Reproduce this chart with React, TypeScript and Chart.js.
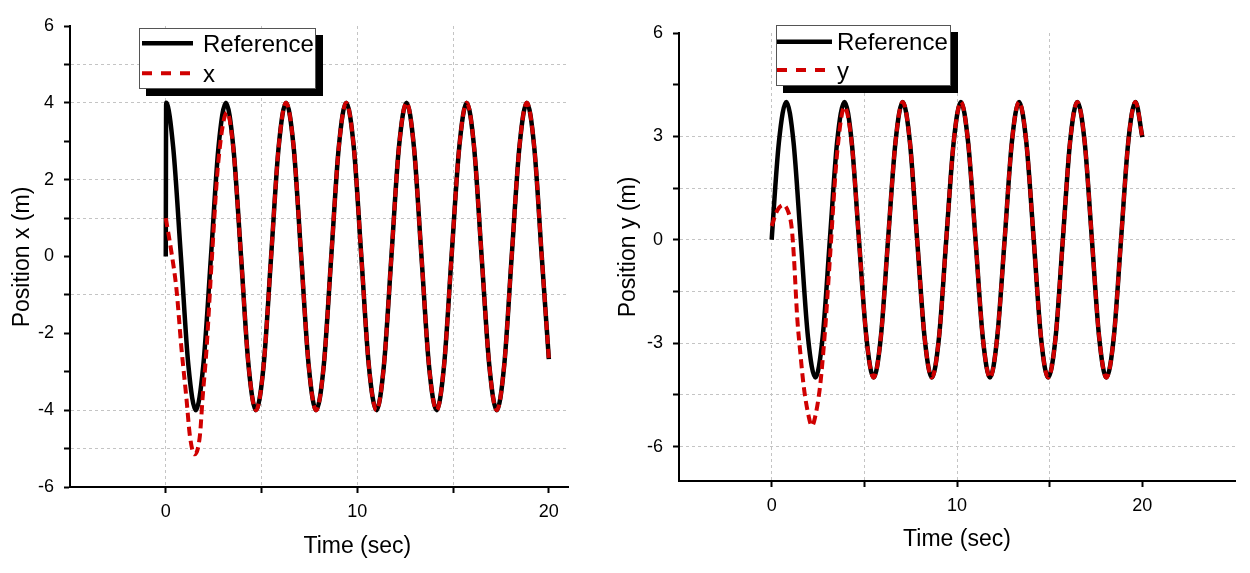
import React, { useEffect, useRef } from 'react';
import { Chart, registerables } from 'chart.js';

Chart.register(...registerables);

const FONT = "'Liberation Sans', Arial, Helvetica, sans-serif";
const RED = '#d00000';
const GRID = '#c4c4c4';

// ---------- data ----------
const refTime = [
  0, 0.02, 0.39, 0.79, 1.18, 1.57, 1.96, 2.36, 2.75, 3.14,
  3.53, 3.93, 4.32, 4.71, 5.11, 5.5, 5.89, 6.28, 6.68, 7.07,
  7.46, 7.85, 8.25, 8.64, 9.03, 9.42, 9.82, 10.21, 10.6, 11.0,
  11.39, 11.78, 12.17, 12.57, 12.96, 13.35, 13.74, 14.14, 14.53, 14.92,
  15.32, 15.71, 16.1, 16.49, 16.89, 17.28, 17.67, 18.06, 18.46, 18.85,
  19.24, 19.63, 20.0,
];
const refX = [
  0, 4, 2.83, 0, -2.83, -4, -2.83, 0, 2.83, 4,
  2.83, 0, -2.83, -4, -2.83, 0, 2.83, 4, 2.83, 0,
  -2.83, -4, -2.83, 0, 2.83, 4, 2.83, 0, -2.83, -4,
  -2.83, 0, 2.83, 4, 2.83, 0, -2.83, -4, -2.83, 0,
  2.83, 4, 2.83, 0, -2.83, -4, -2.83, 0, 2.83, 4,
  2.83, 0, -2.67,
];
const refY = [
  0, 0.16, 2.83, 4, 2.83, 0, -2.83, -4, -2.83, 0,
  2.83, 4, 2.83, 0, -2.83, -4, -2.83, 0, 2.83, 4,
  2.83, 0, -2.83, -4, -2.83, 0, 2.83, 4, 2.83, 0,
  -2.83, -4, -2.83, 0, 2.83, 4, 2.83, 0, -2.83, -4,
  -2.83, 0, 2.83, 4, 2.83, 0, -2.83, -4, -2.83, 0,
  2.83, 4, 2.98,
];
const trackXTime = [
  0, 0.3, 0.56, 0.82, 1.08, 1.26, 1.5, 1.78, 1.92, 2.13,
  2.4, 2.75, 3.2, 3.53, 3.93, 4.32, 4.71, 5.11, 5.5, 5.89,
  6.28, 6.68, 7.07, 7.46, 7.85, 8.25, 8.64, 9.03, 9.42, 9.82,
  10.21, 10.6, 11.0, 11.39, 11.78, 12.17, 12.57, 12.96, 13.35, 13.74,
  14.14, 14.53, 14.92, 15.32, 15.71, 16.1, 16.49, 16.89, 17.28, 17.67,
  18.06, 18.46, 18.85, 19.24, 19.63, 20.0,
];
const trackX = [
  1.0, 0.1, -0.86, -2.4, -3.7, -4.67, -5.15, -4.67, -3.7, -2.4,
  -0.1, 2.5, 3.75, 2.8, 0, -2.83, -4, -2.83, 0, 2.83,
  4, 2.83, 0, -2.83, -4, -2.83, 0, 2.83, 4, 2.83,
  0, -2.83, -4, -2.83, 0, 2.83, 4, 2.83, 0, -2.83,
  -4, -2.83, 0, 2.83, 4, 2.83, 0, -2.83, -4, -2.83,
  0, 2.83, 4, 2.83, 0, -2.67,
];
const trackYTime = [
  0, 0.3, 0.63, 0.9, 1.08, 1.2, 1.38, 1.55, 1.72, 1.95,
  2.17, 2.4, 2.62, 2.78, 2.93, 3.16, 3.53, 3.93, 4.32, 4.71,
  5.11, 5.5, 5.89, 6.28, 6.68, 7.07, 7.46, 7.85, 8.25, 8.64,
  9.03, 9.42, 9.82, 10.21, 10.6, 11.0, 11.39, 11.78, 12.17, 12.57,
  12.96, 13.35, 13.74, 14.14, 14.53, 14.92, 15.32, 15.71, 16.1, 16.49,
  16.89, 17.28, 17.67, 18.06, 18.46, 18.85, 19.24, 19.63, 20.0,
];
const trackY = [
  0.4, 0.85, 1.01, 0.8, 0.35, -0.5, -2.27, -3.3, -4.21, -5.0,
  -5.4, -5.0, -4.21, -3.3, -2.27, -0.4, 2.5, 3.85, 2.8, 0,
  -2.83, -4, -2.83, 0, 2.83, 4, 2.83, 0, -2.83, -4,
  -2.83, 0, 2.83, 4, 2.83, 0, -2.83, -4, -2.83, 0,
  2.83, 4, 2.83, 0, -2.83, -4, -2.83, 0, 2.83, 4,
  2.83, 0, -2.83, -4, -2.83, 0, 2.83, 4, 2.98,
];

// ---------- ticks ----------
const xTicks = [0, 5, 10, 15, 20];
const xTickLabels = ['0', '', '10', '', '20'];
const xGridValues = [0, 5, 10, 15];
const leftYTicks = [-6, -5, -4, -3, -2, -1, 0, 1, 2, 3, 4, 5, 6];
const leftYTickLabels = ['-6', '', '-4', '', '-2', '', '0', '', '2', '', '4', '', '6'];
const leftYGridValues = [5, 4, 2, 1, -1, -4, -5];
const rightYTicks = [-6, -4.5, -3, -1.5, 0, 1.5, 3, 4.5, 6];
const rightYTickLabels = ['-6', '', '-3', '', '0', '', '3', '', '6'];
const rightYGridValues = [3, 1.5, 0, -1.5, -3, -4.5, -6];

type Spec = {
  width: number;
  height: number;
  padding: { left: number; top: number; right: number; bottom: number };
  yAxisWidth: number;
  xAxisHeight: number;
  xMin: number; xMax: number; yMin: number; yMax: number;
  yTicks: number[]; yTickLabels: string[]; yGrid: number[];
  trackLabel: string; trackTime: number[]; trackVals: number[]; refVals: number[];
  xTitle: string; xTitleAt: number; xTitleBaseline: number;
  yTitle: string; yTitleX: number; yTitleY: number;
  legend: { x: number; y: number; w: number; h: number; sx1: number; sx2: number; rows: number[]; tx: number };
};

function decorPlugin(spec: Spec) {
  return {
    id: 'decor',
    afterDraw(chart: any) {
      const ctx = chart.ctx as CanvasRenderingContext2D;
      const xs = chart.scales.x;
      ctx.save();
      ctx.fillStyle = '#000';
      ctx.font = `23px ${FONT}`;
      ctx.textAlign = 'center';
      ctx.textBaseline = 'alphabetic';
      ctx.fillText(spec.xTitle, xs.getPixelForValue(spec.xTitleAt), spec.xTitleBaseline);
      ctx.save();
      ctx.translate(spec.yTitleX, spec.yTitleY);
      ctx.rotate(-Math.PI / 2);
      ctx.textBaseline = 'middle';
      ctx.fillText(spec.yTitle, 0, 0);
      ctx.restore();

      // legend with shadow frame
      const L = spec.legend;
      ctx.fillStyle = '#000';
      ctx.fillRect(L.x + 7, L.y + 7, L.w, L.h);
      ctx.fillStyle = '#fff';
      ctx.fillRect(L.x, L.y, L.w, L.h);
      ctx.strokeStyle = '#555';
      ctx.lineWidth = 1;
      ctx.strokeRect(L.x + 0.5, L.y + 0.5, L.w - 1, L.h - 1);

      const ds = chart.data.datasets;
      const order = [1, 0];
      order.forEach((di, row) => {
        const d = ds[di];
        const y = L.rows[row];
        ctx.save();
        ctx.strokeStyle = d.borderColor;
        ctx.lineWidth = d.borderWidth;
        ctx.setLineDash(d.borderDash ? [10, 9] : []);
        ctx.beginPath();
        ctx.moveTo(L.sx1, y);
        ctx.lineTo(L.sx2, y);
        ctx.stroke();
        ctx.restore();
        ctx.fillStyle = '#000';
        ctx.font = `24px ${FONT}`;
        ctx.textAlign = 'left';
        ctx.textBaseline = 'alphabetic';
        ctx.fillText(d.label, L.tx, y + 8.7);
      });
      ctx.restore();
    },
  };
}

function makeConfig(spec: Spec): any {
  const tickFont = { size: 18, family: FONT };
  return {
    type: 'line',
    data: {
      datasets: [
        {
          label: spec.trackLabel,
          data: spec.trackTime.map((t, i) => ({ x: t, y: spec.trackVals[i] })),
          borderColor: RED,
          borderWidth: 4,
          borderDash: [9, 5],
          pointRadius: 0,
          cubicInterpolationMode: 'monotone',
          fill: false,
          order: 0,
        },
        {
          label: 'Reference',
          data: refTime.map((t, i) => ({ x: t, y: spec.refVals[i] })),
          borderColor: '#000',
          borderWidth: 4.5,
          pointRadius: 0,
          cubicInterpolationMode: 'monotone',
          fill: false,
          order: 1,
        },
      ],
    },
    options: {
      animation: false,
      responsive: false,
      maintainAspectRatio: false,
      layout: { padding: spec.padding },
      plugins: { legend: { display: false }, tooltip: { enabled: false }, title: { display: false } },
      scales: {
        x: {
          type: 'linear',
          min: spec.xMin,
          max: spec.xMax,
          afterFit: (s: any) => { s.height = spec.xAxisHeight; },
          afterBuildTicks: (s: any) => { s.ticks = xTicks.map((v) => ({ value: v })); },
          ticks: {
            callback: (_v: any, i: number) => xTickLabels[i],
            autoSkip: false,
            maxRotation: 0,
            color: '#000',
            font: tickFont,
            padding: 8,
          },
          grid: {
            color: (c: any) => (c.tick && xGridValues.includes(c.tick.value) ? GRID : 'rgba(0,0,0,0)'),
            lineWidth: 1,
            tickColor: '#000',
            tickLength: 6,
            tickWidth: 2,
          },
          border: { color: '#000', width: 2, dash: [3, 3] },
        },
        y: {
          type: 'linear',
          min: spec.yMin,
          max: spec.yMax,
          afterFit: (s: any) => { s.width = spec.yAxisWidth; },
          afterBuildTicks: (s: any) => { s.ticks = spec.yTicks.map((v) => ({ value: v })); },
          ticks: {
            callback: (_v: any, i: number) => spec.yTickLabels[i],
            autoSkip: false,
            color: '#000',
            font: tickFont,
            padding: 10,
          },
          grid: {
            color: (c: any) => (c.tick && spec.yGrid.includes(c.tick.value) ? GRID : 'rgba(0,0,0,0)'),
            lineWidth: 1,
            tickColor: '#000',
            tickLength: 6,
            tickWidth: 2,
          },
          border: { color: '#000', width: 2, dash: [3, 3] },
        },
      },
    },
    plugins: [decorPlugin(spec)],
  };
}

const leftSpec: Spec = {
  width: 600, height: 573,
  padding: { left: 0, top: 26, right: 32, bottom: 0 },
  yAxisWidth: 70, xAxisHeight: 86,
  xMin: -5, xMax: 21, yMin: -6, yMax: 6,
  yTicks: leftYTicks, yTickLabels: leftYTickLabels, yGrid: leftYGridValues,
  trackLabel: 'x', trackTime: trackXTime, trackVals: trackX, refVals: refX,
  xTitle: 'Time (sec)', xTitleAt: 10, xTitleBaseline: 553,
  yTitle: 'Position x (m)', yTitleX: 23, yTitleY: 257,
  legend: { x: 139, y: 28, w: 177, h: 61, sx1: 142, sx2: 193, rows: [43.3, 73.3], tx: 203 },
};

const rightSpec: Spec = {
  width: 650, height: 573,
  padding: { left: 0, top: 33, right: 15, bottom: 0 },
  yAxisWidth: 79, xAxisHeight: 92,
  xMin: -5, xMax: 25, yMin: -7, yMax: 6,
  yTicks: rightYTicks, yTickLabels: rightYTickLabels, yGrid: rightYGridValues,
  trackLabel: 'y', trackTime: trackYTime, trackVals: trackY, refVals: refY,
  xTitle: 'Time (sec)', xTitleAt: 10, xTitleBaseline: 546,
  yTitle: 'Position y (m)', yTitleX: 29, yTitleY: 247,
  legend: { x: 176, y: 25, w: 175, h: 61, sx1: 177, sx2: 232, rows: [41.7, 70], tx: 237 },
};

function ChartCanvas({ spec, left }: { spec: Spec; left: number }) {
  const ref = useRef<HTMLCanvasElement | null>(null);
  useEffect(() => {
    if (!ref.current) return;
    const chart = new Chart(ref.current, makeConfig(spec));
    return () => chart.destroy();
  }, [spec]);
  return (
    <canvas
      ref={ref}
      width={spec.width}
      height={spec.height}
      style={{ position: 'absolute', left, top: 0, width: spec.width, height: spec.height, display: 'block' }}
    />
  );
}

export default function App() {
  return (
    <div style={{ position: 'absolute', left: 0, top: 0, width: 1250, height: 573, background: '#fff', overflow: 'hidden' }}>
      <ChartCanvas spec={leftSpec} left={0} />
      <ChartCanvas spec={rightSpec} left={600} />
    </div>
  );
}
